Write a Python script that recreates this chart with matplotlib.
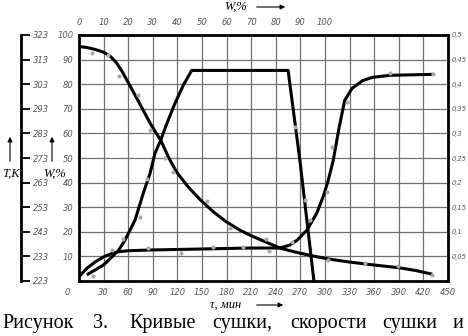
import numpy as np
import matplotlib
matplotlib.use('Agg')
import matplotlib.pyplot as plt
import matplotlib.transforms as mtransforms
from matplotlib.patches import FancyArrowPatch

# drying curve: moisture W,% vs time tau, min
tau_dry = [0, 10, 20, 30, 38, 45, 52, 62, 74, 87, 100, 109, 119, 133, 148,
           165, 180, 196, 210, 224, 245, 262, 282, 305, 330, 360, 390, 410, 429]
w_dry = [95.3, 94.9, 94.1, 93.0, 91.4, 89.0, 85.5, 79.5, 72.1, 64.0, 57.0, 50.4,
         44.3, 38.3, 33.0, 27.8, 24.0, 20.7, 18.4, 16.4, 13.4, 11.9, 10.4, 8.9,
         7.7, 6.5, 5.4, 4.3, 2.9]
tau_dry_pts = [16, 35, 49, 72, 87, 105, 115, 156, 184, 228, 304, 349, 389, 430]
w_dry_pts = [92.5, 91.7, 83.2, 75.5, 61.5, 50.0, 44.2, 32.5, 21.5, 17.0, 8.5,
             7.3, 6.1, 2.4]

# temperature T,K vs tau
tau_temp = [0, 10, 20, 30, 40, 48, 60, 87, 148, 208, 245, 257, 266, 278, 290,
            298, 304, 310, 317, 324, 333, 346, 358, 379, 430]
t_temp = [224.8, 228.3, 230.8, 232.8, 234.2, 234.9, 235.3, 235.6, 236.0, 236.4,
          236.4, 237.6, 239.6, 243.7, 250.6, 257.5, 264.0, 272.0, 285.0, 296.4,
          301.3, 304.5, 305.8, 306.6, 307.0]
tau_temp_pts = [17, 34, 40, 84, 124, 163, 200, 232, 260, 282, 302, 308, 327, 379, 432]
t_temp_pts = [225.0, 231.1, 235.6, 236.4, 234.4, 236.8, 236.8, 235.2, 238.8,
              247.7, 259.0, 277.4, 295.6, 307.4, 307.0]

# drying rate vs moisture W,% (top axis)
w_rate = [3.7, 9.8, 15.9, 18.7, 22.8, 26.1, 28.9, 30.9, 33.2, 35.7, 39.0, 42.4,
          45.8, 85.0, 89.8, 95.5]
rate = [0.014, 0.032, 0.061, 0.083, 0.124, 0.178, 0.219, 0.260, 0.286, 0.320,
        0.361, 0.398, 0.428, 0.428, 0.245, 0.0]
w_rate_pts = [17.9, 24.8, 27.5, 87.8, 91.9]
rate_pts = [0.085, 0.130, 0.208, 0.314, 0.164]

tau_ticks = list(range(0, 451, 30))
w_ticks = list(range(10, 101, 10))
wtop_ticks = list(range(0, 101, 10))
t_ticks = list(range(223, 324, 10))
rate_ticks = [0.05, 0.1, 0.15, 0.2, 0.25, 0.3, 0.35, 0.4, 0.45, 0.5]
rate_labels = ['0,05', '0,1', '0,15', '0,2', '0,25', '0,3', '0,35', '0,4', '0,45', '0,5']

caption_words = ['Рисунок', '3.', 'Кривые', 'сушки,', 'скорости', 'сушки', 'и']
caption_x = [2, 93, 129, 212, 290, 382, 453]

W, H = 468, 336


def fx(x):
    return x / W


def fy(y):
    return 1 - y / H


tick_font = dict(family=['Liberation Sans Narrow', 'DejaVu Sans Condensed', 'DejaVu Sans'],
                 style='italic', size=6, color='#555555')
lab_font = dict(family='Liberation Serif', style='italic', size=9, color='black')

fig = plt.figure(figsize=(W / 100, H / 100), dpi=100)
pos = [fx(79), fy(281), 369 / W, 246 / H]

# main axes: tau vs W
ax = fig.add_axes(pos)
ax.set_xlim(0, 450)
ax.set_ylim(0, 100)
ax.set_xticks(tau_ticks)
ax.set_yticks(w_ticks)
ax.grid(True, color='#707070', lw=0.9)
ax.tick_params(length=0, pad=4)
ax.tick_params(axis='x', pad=5)
for lab in ax.get_xticklabels() + ax.get_yticklabels():
    lab.set(**tick_font)
for s in ax.spines.values():
    s.set_linewidth(2)
ax.plot(tau_dry, w_dry, color='black', lw=2.2, zorder=3)
ax.plot(tau_dry_pts, w_dry_pts, 'o', ms=2.0, color='#aaaaaa', zorder=4)

# shift the bottom "0" a bit left as in the original
off = mtransforms.ScaledTranslation(-12 / 100, 0, fig.dpi_scale_trans)
zero_lab = ax.xaxis.get_major_ticks()[0].label1
zero_lab.set_transform(zero_lab.get_transform() + off)

# temperature axis (outer left)
ax_t = fig.add_axes(pos, facecolor='none')
ax_t.set_ylim(223, 323)
ax_t.set_xlim(0, 450)
ax_t.set_yticks(t_ticks)
ax_t.xaxis.set_visible(False)
for k in ['left', 'top', 'bottom']:
    ax_t.spines[k].set_visible(False)
ax_t.spines['right'].set_position(('axes', -0.157))
ax_t.spines['right'].set_linewidth(2)
ax_t.yaxis.tick_right()
ax_t.tick_params(axis='y', direction='out', length=6.5, width=1.3, pad=2)
for lab in ax_t.get_yticklabels():
    lab.set(**tick_font)
ax_t.plot(tau_temp, t_temp, color='black', lw=2.2, zorder=3)
ax_t.plot(tau_temp_pts, t_temp_pts, 'o', ms=2.0, color='#aaaaaa', zorder=4)

# drying rate axes (top W, right rate)
ax_r = fig.add_axes(pos, facecolor='none')
ax_r.set_xlim(0, 150)
ax_r.set_ylim(0, 0.5)
for s in ax_r.spines.values():
    s.set_visible(False)
ax_r.xaxis.tick_top()
ax_r.yaxis.tick_right()
ax_r.set_xticks(wtop_ticks)
ax_r.set_yticks(rate_ticks)
ax_r.set_yticklabels(rate_labels)
ax_r.tick_params(length=0)
ax_r.tick_params(axis='x', pad=6)
ax_r.tick_params(axis='y', pad=3)
for lab in ax_r.get_xticklabels():
    lab.set(**tick_font)
for lab in ax_r.get_yticklabels():
    lab.set(**tick_font)
    lab.set_fontsize(4.8)
ax_r.plot(w_rate, rate, color='black', lw=2.2, zorder=3, clip_on=False)
ax_r.plot(w_rate_pts, rate_pts, 'o', ms=2.0, color='#aaaaaa', zorder=4)

# axis names with arrows
fig.text(fx(11), fy(174), 'T,K', ha='center', va='center', **lab_font)
fig.text(fx(55), fy(174), 'W,%', ha='center', va='center', **lab_font)
fig.text(fx(236), fy(7), 'W,%', ha='center', va='center', **lab_font)
fig.text(fx(226), fy(305), 'τ, мин', ha='center', va='center', **lab_font)


def arrow(x1, y1, x2, y2):
    a = FancyArrowPatch((fx(x1), fy(y1)), (fx(x2), fy(y2)), transform=fig.transFigure,
                        arrowstyle='-|>', mutation_scale=7, lw=0.8, color='black')
    fig.add_artist(a)


arrow(10, 164, 10, 134)
arrow(52, 164, 52, 134)
arrow(254, 7, 288, 7)
arrow(254, 305, 286, 305)

for word, x in zip(caption_words, caption_x):
    fig.text(fx(x), fy(328), word, ha='left', va='baseline',
             family='Liberation Serif', size=14.5, color='black')

fig.savefig('out.png', dpi=100, facecolor='white')
